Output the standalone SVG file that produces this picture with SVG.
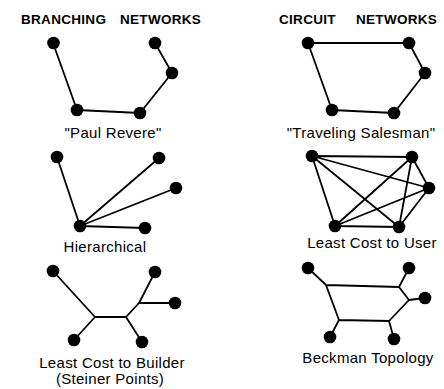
<svg xmlns="http://www.w3.org/2000/svg" width="444" height="389" viewBox="0 0 444 389">
<style>
.e{stroke:#000;stroke-width:1.8;fill:none;stroke-linecap:round;stroke-linejoin:round}
.n{fill:#000}
.t{font-family:"Liberation Sans",Arial,sans-serif;font-size:15px;letter-spacing:0.3px;fill:#000;text-anchor:middle}
.h{font-family:"Liberation Sans",Arial,sans-serif;font-size:13.5px;font-weight:bold;letter-spacing:0.3px;fill:#000}
</style>
<rect width="444" height="389" fill="#fff"/>
<text class="h" y="24"><tspan x="21">BRANCHING</tspan><tspan x="120">NETWORKS</tspan></text>
<text class="h" y="24"><tspan x="279">CIRCUIT</tspan><tspan x="356">NETWORKS</tspan></text>
<g id="connectors">
<polyline class="e" points="53,43 77,110 140,113 172,73 155,43"/>
<polygon class="e" points="308,43 409,43 425,73 394,113 332,110"/>
<path class="e" d="M80,226L57,157M80,226L159,158M80,226L176,188M80,226L145,228"/>
<path class="e" d="M312,156L412,157M312,156L429,188M312,156L399,227M312,156L335,226M412,157L429,188M412,157L399,227M412,157L335,226M429,188L399,227M429,188L335,226M399,227L335,226"/>
<path class="e" d="M53,271L95,317L74,340M95,317L126,317L142,342M126,317L139,303L155,272M139,303L175,303"/>
<path class="e" d="M308,268L326,285L399,287L409,268M399,287L409,300L425,298M409,300L389,321L394,339M389,321L339,320L330,337M339,320L326,285"/>
</g>
<g id="pr1"><circle class="n" cx="53.5" cy="43" r="6.3"/></g>
<g id="pr2"><circle class="n" cx="77" cy="110" r="6.3"/></g>
<g id="pr3"><circle class="n" cx="140" cy="113" r="6.3"/></g>
<g id="pr4"><circle class="n" cx="172" cy="73" r="6.3"/></g>
<g id="pr5"><circle class="n" cx="155" cy="43" r="6.3"/></g>
<g id="ts1"><circle class="n" cx="308" cy="43" r="6.3"/></g>
<g id="ts2"><circle class="n" cx="409" cy="43" r="6.3"/></g>
<g id="ts3"><circle class="n" cx="425" cy="73" r="6.3"/></g>
<g id="ts4"><circle class="n" cx="394" cy="113" r="6.3"/></g>
<g id="ts5"><circle class="n" cx="332" cy="110" r="6.3"/></g>
<g id="hi1"><circle class="n" cx="57" cy="157" r="6.3"/></g>
<g id="hi2"><circle class="n" cx="159" cy="158" r="6.3"/></g>
<g id="hi3"><circle class="n" cx="176" cy="188" r="6.3"/></g>
<g id="hi4"><circle class="n" cx="145" cy="228" r="6.3"/></g>
<g id="hi5"><circle class="n" cx="80" cy="226" r="6.3"/></g>
<g id="lu1"><circle class="n" cx="312" cy="156" r="6.3"/></g>
<g id="lu2"><circle class="n" cx="412" cy="157" r="6.3"/></g>
<g id="lu3"><circle class="n" cx="429" cy="188" r="6.3"/></g>
<g id="lu4"><circle class="n" cx="399" cy="227" r="6.3"/></g>
<g id="lu5"><circle class="n" cx="335" cy="226" r="6.3"/></g>
<g id="lb1"><circle class="n" cx="53" cy="271" r="6.3"/></g>
<g id="lb2"><circle class="n" cx="155" cy="272" r="6.3"/></g>
<g id="lb3"><circle class="n" cx="175" cy="303" r="6.3"/></g>
<g id="lb4"><circle class="n" cx="142" cy="342" r="6.3"/></g>
<g id="lb5"><circle class="n" cx="74" cy="340" r="6.3"/></g>
<g id="bt1"><circle class="n" cx="308" cy="268" r="6.3"/></g>
<g id="bt2"><circle class="n" cx="409" cy="268" r="6.3"/></g>
<g id="bt3"><circle class="n" cx="425" cy="298" r="6.3"/></g>
<g id="bt4"><circle class="n" cx="394" cy="339" r="6.3"/></g>
<g id="bt5"><circle class="n" cx="330" cy="337" r="6.3"/></g>
<text class="t" x="113" y="138">"Paul Revere"</text>
<text class="t" x="361" y="138">"Traveling Salesman"</text>
<text class="t" x="105" y="252">Hierarchical</text>
<text class="t" x="372" y="248">Least Cost to User</text>
<text class="t" x="112" y="368">Least Cost to Builder</text>
<text class="t" x="110" y="384">(Steiner Points)</text>
<text class="t" x="368" y="363">Beckman Topology</text>
</svg>
